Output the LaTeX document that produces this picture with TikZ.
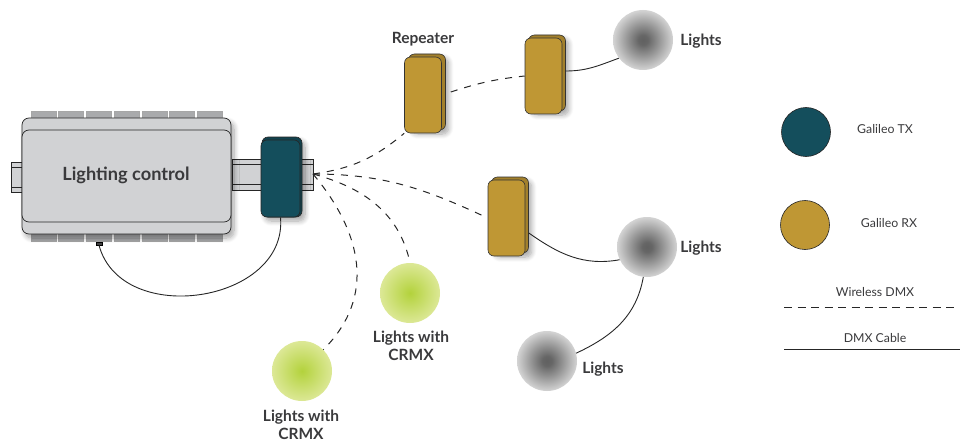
\documentclass[tikz,border=0pt]{standalone}
\usepackage{fontspec}
\setmainfont{Lato}
\usetikzlibrary{shadows.blur}
\definecolor{txteal}{HTML}{144E5C}
\definecolor{rxgold}{HTML}{BF9734}
\definecolor{bodygrey}{HTML}{D1D2D4}
\definecolor{tabgrey}{HTML}{A9AAAC}
\definecolor{inkgrey}{HTML}{3A3A3C}
\definecolor{rxlime}{HTML}{B3D23C}
\definecolor{rxlimepale}{HTML}{DCE896}
\pgfdeclareradialshading{lampgrey}{\pgfpointorigin}{color(0bp)=(black!62); color(4bp)=(black!60); color(13bp)=(black!42); color(25bp)=(black!17); color(50bp)=(black!17)}
\pgfdeclareradialshading{lampgreen}{\pgfpointorigin}{color(0bp)=(rxlime); color(25bp)=(rxlimepale); color(50bp)=(rxlimepale)}
\tikzset{
  softshadow/.style={blur shadow={shadow xshift=3pt, shadow yshift=-4pt, shadow blur steps=8, shadow opacity=35, shadow blur radius=5pt}},
  tab/.style={draw=black!35, fill=tabgrey, inner sep=0pt, minimum width=25pt, minimum height=7pt, line width=.5pt},
  rail/.style={draw=black!85, fill=bodygrey, inner sep=0pt, line width=.9pt},
  ctrl/.style={draw=black!85, fill=bodygrey, rounded corners=7pt, inner sep=0pt, line width=.7pt},
  txbox/.style={draw=black!85, fill=txteal, rounded corners=6pt, inner sep=0pt, line width=.6pt},
  rxbox/.style={draw=black!80, fill=rxgold, rounded corners=6pt, inner sep=0pt, minimum width=37pt, minimum height=76pt, line width=.6pt},
  lamp/.style={circle, inner sep=0pt, minimum size=60pt, shading=lampgrey},
  limelamp/.style={circle, inner sep=0pt, minimum size=60pt, shading=lampgreen},
  swatch/.style={circle, draw=black!85, inner sep=0pt, minimum size=49pt, line width=.6pt},
  label/.style={text=inkgrey, font=\bfseries\fontsize{15.5}{17.5}\selectfont, align=center, inner sep=0pt},
  keytext/.style={text=inkgrey, font=\fontsize{12.3}{14}\selectfont, inner sep=0pt},
  wireless/.style={dash pattern=on 7pt off 7pt, line width=1pt, black!85},
  keydash/.style={dash pattern=on 8pt off 5.5pt, line width=1pt, black!85},
  cable/.style={line width=.9pt, black!85}
}
\begin{document}
\begin{tikzpicture}[x=1pt, y=-1pt]
\useasboundingbox (0,0) rectangle (960,441);
\node[tab] (t1) at (43.5,114.5) {};
\node[tab] (t2) at (71,114.5) {};
\node[tab] (t3) at (99,114.5) {};
\node[tab] (t4) at (127,114.5) {};
\node[tab] (t5) at (154.5,114.5) {};
\node[tab] (t6) at (182,114.5) {};
\node[tab] (t7) at (209.5,114.5) {};
\node[tab] (b1) at (43.5,237.5) {};
\node[tab] (b2) at (71,237.5) {};
\node[tab] (b3) at (99,237.5) {};
\node[tab] (b4) at (127,237.5) {};
\node[tab] (b5) at (154.5,237.5) {};
\node[tab] (b6) at (182,237.5) {};
\node[tab] (b7) at (209.5,237.5) {};
\node[rail, minimum width=11pt, minimum height=30pt] (railL) at (16.5,177) {};
\node[rail, minimum width=11pt, minimum height=20pt] (railLin) at (16.5,177) {};
\node[rail, minimum width=81pt, minimum height=31pt] (railR) at (272.5,174.5) {};
\node[rail, minimum width=81pt, minimum height=20pt] (railRin) at (272.5,174.5) {};
\node[ctrl, softshadow, minimum width=209pt, minimum height=116pt] (ctrlback) at (126.5,176) {};
\node[ctrl, minimum width=209pt, minimum height=92pt] (ctrl) at (126.5,176) {};
\node[label, font=\bfseries\fontsize{18.2}{20}\selectfont] (ctrltext) at (126,175) {Lighting control};
\node[draw=black, fill=black!75, inner sep=0pt, minimum width=6pt, minimum height=3pt] (plug) at (99,243.5) {};
\node[txbox, softshadow, minimum width=40pt, minimum height=80pt, fill=txteal!85!black] (txback) at (282,177) {};
\node[txbox, minimum width=39pt, minimum height=77pt] (tx) at (280.5,178.5) {};
\coordinate (fan) at (313,174);
\node[rxbox, softshadow, fill=rxgold!85!black] (rep1back) at (427,92) {};
\node[rxbox] (rep1) at (423,95) {};
\node[rxbox, softshadow, fill=rxgold!85!black] (rep2back) at (547,73) {};
\node[rxbox] (rep2) at (543.5,76) {};
\node[rxbox, softshadow, fill=rxgold!85!black] (rep3back) at (510,215) {};
\node[rxbox] (rep3) at (506.5,218) {};
\node[lamp] (light1) at (643,40) {};
\node[lamp] (light2) at (647,247) {};
\node[lamp] (light3) at (547,361) {};
\node[limelamp] (crmx1) at (410,293) {};
\node[limelamp] (crmx2) at (302,371) {};
\node[label] (reptext) at (423,39) {Repeater};
\node[label] (light1text) at (701,41) {Lights};
\node[label] (light2text) at (701,248) {Lights};
\node[label] (light3text) at (603,369) {Lights};
\node[label] (crmx1text) at (411,346) {Lights with\\CRMX};
\node[label] (crmx2text) at (301,425) {Lights with\\CRMX};
\node[swatch, fill=txteal] (keytx) at (806,132) {};
\node[swatch, fill=rxgold] (keyrx) at (805,225) {};
\node[keytext] (keytxtext) at (885,129) {Galileo TX};
\node[keytext] (keyrxtext) at (889,223) {Galileo RX};
\node[keytext] (keywltext) at (875,292) {Wireless DMX};
\node[keytext] (keycabtext) at (875,338) {DMX Cable};
\coordinate (wlA) at (784,307);
\coordinate (wlB) at (955,307);
\coordinate (cabA) at (784,349);
\coordinate (cabB) at (960,349);
\draw[wireless] (fan) to[out=8, in=-140] (rep1.south west);
\draw[wireless] (rep1back.east) ++(5,0) to[out=18, in=186] (rep2.west);
\draw[wireless] (fan) to[out=0, in=155] (rep3.west);
\draw[wireless] (fan) to[out=-15, in=102] (crmx1.north);
\draw[wireless] (fan) to[out=-50, in=45, looseness=1.1] (crmx2.45);
\draw[cable] (plug.south) to[out=-75, in=-85, looseness=1.2] (tx.south);
\draw[cable] (rep2back.east) ++(0,-2) to[out=0, in=200] (light1.217);
\draw[cable] (rep3back.east) ++(0,18) to[out=-35, in=190] (light2.205);
\draw[cable] (light2.263) to[out=-100, in=25] (light3.15);
\draw[keydash] (wlA) -- (wlB);
\draw[cable] (cabA) -- (cabB);
\end{tikzpicture}
\end{document}
